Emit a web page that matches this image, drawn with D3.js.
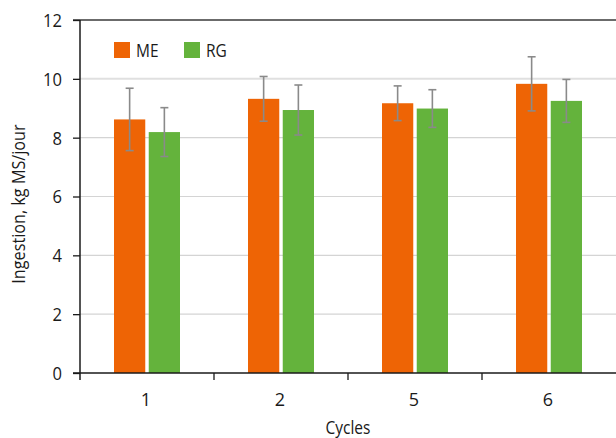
<!DOCTYPE html>
<html>
<head>
<meta charset="utf-8">
<script src="https://cdn.jsdelivr.net/npm/d3@7"></script>
<style>
  html, body { margin: 0; padding: 0; background: #fff; }
  svg { display: block; }
  text { font-family: "Open Sans", sans-serif; fill: #1a1a1a; }
</style>
</head>
<body>
<svg id="chart" width="616" height="438"></svg>
<script>
// Intake per grazing cycle, two groups, with standard deviations
const cycles = ["1", "2", "5", "6"];
const seriesNames = ["ME", "RG"];
const meValues = [8.62, 9.32, 9.17, 9.83];
const rgValues = [8.19, 8.94, 8.99, 9.25];
const meErr = [1.06, 0.76, 0.59, 0.92];
const rgErr = [0.83, 0.85, 0.64, 0.73];
const yTicks = [0, 2, 4, 6, 8, 10, 12];
const colors = { ME: "#ee6405", RG: "#64b33c" };

const svg = d3.select("#chart");
const plotLeft = 80, plotRight = 616, plotTop = 20, plotBottom = 373;

const x = d3.scaleBand().domain(cycles).range([plotLeft, plotRight]).paddingInner(0).paddingOuter(0);
const bw = x.bandwidth();
const xs = d3.scaleBand().domain(seriesNames)
  .range([bw / 2 - 33, bw / 2 + 33]).paddingInner(0.1);
const y = d3.scaleLinear().domain([0, 12]).range([plotBottom, plotTop]);

// condensed look: squeeze a label horizontally to a given width
function squeeze(sel, ratio) {
  sel.each(function () {
    const w = this.getComputedTextLength();
    d3.select(this).attr("textLength", w * ratio).attr("lengthAdjust", "spacingAndGlyphs");
  });
}

// horizontal gridlines
svg.append("g").selectAll("line")
  .data(yTicks.filter(t => t > 0 && t < 12))
  .join("line")
  .attr("x1", plotLeft).attr("x2", plotRight)
  .attr("y1", d => y(d)).attr("y2", d => y(d))
  .attr("stroke", d => d === 10 ? "#e0e0e0" : "#d4d4d4")
  .attr("stroke-width", d => d === 10 ? 2 : 1.2);

// top frame line
svg.append("line")
  .attr("x1", plotLeft - 7).attr("x2", plotRight)
  .attr("y1", y(12)).attr("y2", y(12))
  .attr("stroke", "#3a3a3a").attr("stroke-width", 1.3);

// bars
const rows = cycles.map((c, i) => ({
  cycle: c,
  items: [
    { key: "ME", v: meValues[i], e: meErr[i] },
    { key: "RG", v: rgValues[i], e: rgErr[i] }
  ]
}));

const groups = svg.append("g").selectAll("g")
  .data(rows).join("g")
  .attr("transform", d => `translate(${x(d.cycle)},0)`);

groups.selectAll("rect")
  .data(d => d.items).join("rect")
  .attr("x", d => xs(d.key))
  .attr("width", xs.bandwidth())
  .attr("y", d => y(d.v))
  .attr("height", d => y(0) - y(d.v))
  .attr("fill", d => colors[d.key]);

// error bars
const eb = groups.selectAll("g.err")
  .data(d => d.items).join("g").attr("class", "err")
  .attr("stroke", "#8a8a8a").attr("stroke-width", 1.6);
eb.append("line")
  .attr("x1", d => xs(d.key) + xs.bandwidth() / 2)
  .attr("x2", d => xs(d.key) + xs.bandwidth() / 2)
  .attr("y1", d => y(d.v + d.e)).attr("y2", d => y(d.v - d.e));
eb.append("line")
  .attr("x1", d => xs(d.key) + xs.bandwidth() / 2 - 4)
  .attr("x2", d => xs(d.key) + xs.bandwidth() / 2 + 4)
  .attr("y1", d => y(d.v + d.e)).attr("y2", d => y(d.v + d.e));
eb.append("line")
  .attr("x1", d => xs(d.key) + xs.bandwidth() / 2 - 4)
  .attr("x2", d => xs(d.key) + xs.bandwidth() / 2 + 4)
  .attr("y1", d => y(d.v - d.e)).attr("y2", d => y(d.v - d.e));

// y axis
const yAxis = svg.append("g")
  .attr("transform", `translate(${plotLeft},0)`)
  .call(d3.axisLeft(y).tickValues(yTicks).tickSize(7).tickPadding(11).tickFormat(d3.format("d")));
yAxis.select(".domain").attr("stroke", "#1a1a1a").attr("stroke-width", 1.5)
  .attr("d", `M0,${plotTop}V${plotBottom + 7}`);
yAxis.selectAll(".tick line").attr("stroke", "#1a1a1a").attr("stroke-width", 1.3);
yAxis.selectAll(".tick text")
  .style("font-size", "18px").attr("fill", "#1a1a1a").attr("dy", "0.36em")
  .call(squeeze, 0.92);

// x axis with boundary ticks between categories
const xAxis = svg.append("g").attr("transform", `translate(0,${plotBottom})`);
xAxis.append("line")
  .attr("x1", plotLeft - 7).attr("x2", plotRight).attr("y1", 0).attr("y2", 0)
  .attr("stroke", "#1a1a1a").attr("stroke-width", 1.6);
xAxis.selectAll("line.b")
  .data(cycles.slice(1)).join("line").attr("class", "b")
  .attr("x1", d => x(d)).attr("x2", d => x(d))
  .attr("y1", 0).attr("y2", 7)
  .attr("stroke", "#1a1a1a").attr("stroke-width", 1.3);
xAxis.selectAll("text")
  .data(cycles).join("text")
  .attr("x", d => x(d) + bw / 2 - 1)
  .attr("y", 33)
  .attr("text-anchor", "middle")
  .style("font-size", "18px")
  .text(d => d);

// axis titles
svg.append("text")
  .attr("x", (plotLeft + plotRight) / 2).attr("y", 434)
  .attr("text-anchor", "middle").style("font-size", "18px")
  .text("Cycles")
  .call(squeeze, 0.86);
svg.append("text")
  .attr("transform", "translate(25,204) rotate(-90)")
  .attr("text-anchor", "middle").style("font-size", "18px")
  .text("Ingestion, kg MS/jour")
  .call(squeeze, 0.9);

// legend
const legend = svg.append("g").attr("transform", "translate(114,42)");
const li = legend.selectAll("g").data(seriesNames).join("g")
  .attr("transform", (d, i) => `translate(${i * 70},0)`);
li.append("rect").attr("width", 16).attr("height", 16).attr("fill", d => colors[d]);
li.append("text").attr("x", 22).attr("y", 15).style("font-size", "18px").text(d => d)
  .call(squeeze, 0.86);
</script>
</body>
</html>
